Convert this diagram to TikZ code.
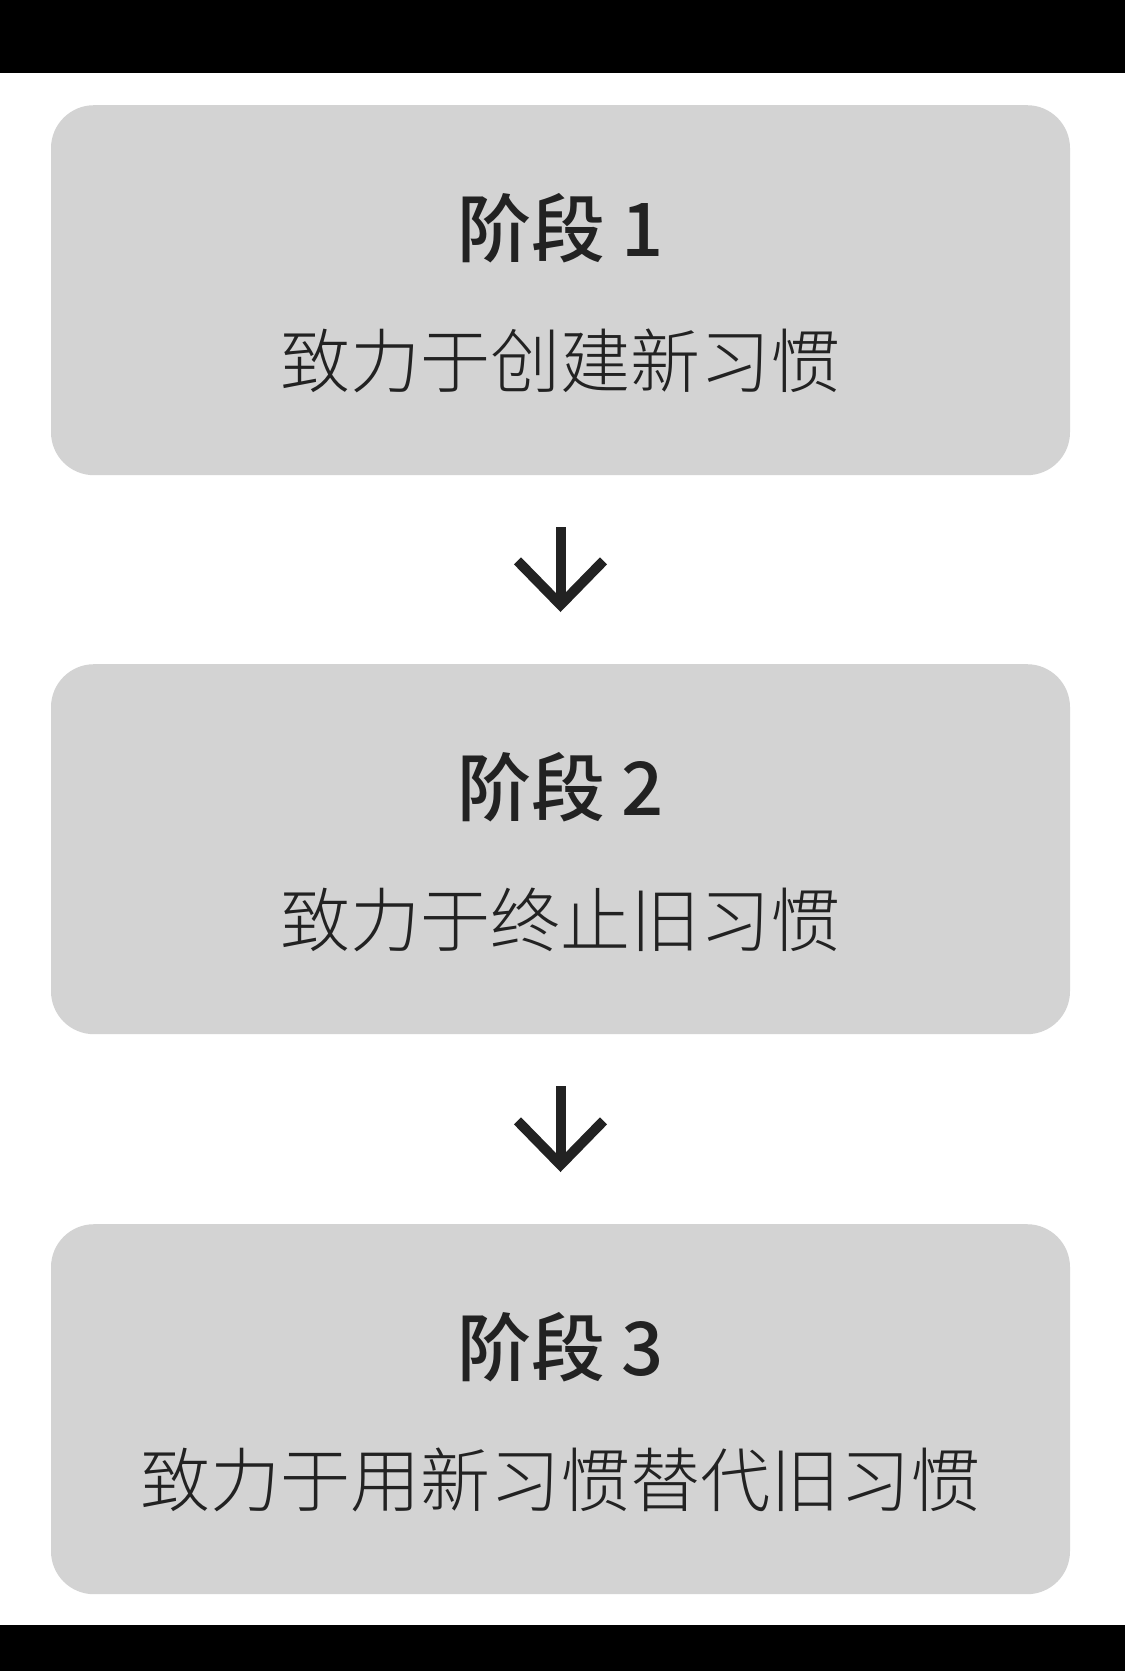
\documentclass[tikz,border=0pt]{standalone}
\usepackage{fontspec}
\newfontfamily\cjkmedium{Noto Sans CJK SC Medium}
\newfontfamily\cjklight{Noto Sans CJK SC Light}
\usetikzlibrary{calc,arrows.meta}
\definecolor{boxgray}{RGB}{211,211,211}
\definecolor{ink}{RGB}{34,34,34}
\begin{document}
\begin{tikzpicture}[x=1pt,y=-1pt,
  stagebox/.style={fill=boxgray,draw=none,rounded corners=43pt,
    minimum width=1019pt,minimum height=370pt,inner sep=0pt,anchor=north},
  stagetitle/.style={anchor=base,inner sep=0pt,text=ink,
    font=\cjkmedium\fontsize{74pt}{80pt}\selectfont},
  stagetext/.style={anchor=base,inner sep=0pt,text=ink,
    font=\cjklight\fontsize{70pt}{76pt}\selectfont},
  flow/.style={draw=ink,line width=10pt,
    -{Straight Barb[length=44pt,width=86pt]},
    shorten <=52pt,shorten >=52pt}]
  % page frame with black bands top and bottom
  \useasboundingbox (0,0) rectangle (1125,1671);
  \fill[white] (0,0) rectangle (1125,1671);
  \fill[black] (0,0) rectangle (1125,73);
  \fill[black] (0,1625) rectangle (1125,1671);

  % three stages
  \node[stagebox] (b1) at (560.5,105) {};
  \node[stagebox] (b2) at (560.5,664) {};
  \node[stagebox] (b3) at (560.5,1224) {};

  \node[stagetitle] (t1) at ($(b1.north)+(0,151)$) {阶段 1};
  \node[stagetext]  (s1) at ($(b1.north)+(0,282)$) {致力于创建新习惯};
  \node[stagetitle] (t2) at ($(b2.north)+(0,151)$) {阶段 2};
  \node[stagetext]  (s2) at ($(b2.north)+(0,282)$) {致力于终止旧习惯};
  \node[stagetitle] (t3) at ($(b3.north)+(0,151)$) {阶段 3};
  \node[stagetext]  (s3) at ($(b3.north)+(0,282)$) {致力于用新习惯替代旧习惯};

  % transitions
  \draw[flow] (b1.south) -- (b2.north);
  \draw[flow] (b2.south) -- (b3.north);
\end{tikzpicture}
\end{document}
